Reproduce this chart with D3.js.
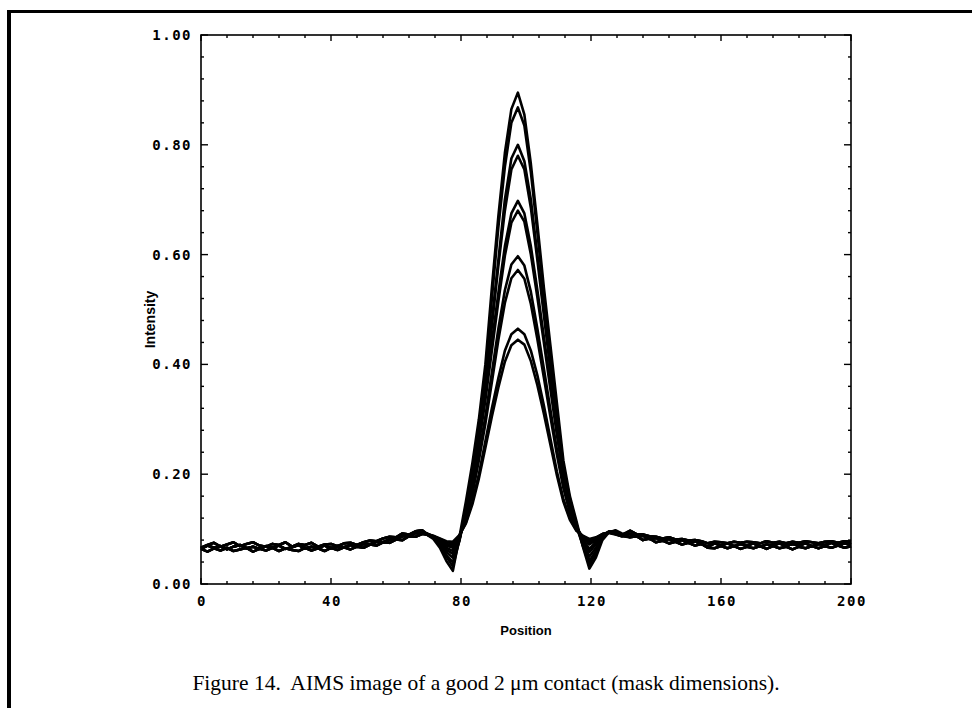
<!DOCTYPE html>
<html>
<head>
<meta charset="utf-8">
<script src="https://cdn.jsdelivr.net/npm/d3@7"></script>
<style>
  html, body { margin: 0; padding: 0; background: #fff; }
  svg { display: block; }
</style>
</head>
<body>
<svg id="fig" width="972" height="708"></svg>
<script>
// sampled positions (the peak window is read on odd half-units, the flanks every 2)
const leftPos = d3.range(0, 69, 2);        // 0 .. 68
const peakPos = d3.range(69.5, 130, 2);    // 69.5 .. 129.5
const rightPos = d3.range(132, 201, 2);    // 132 .. 200

// noisy flat background, three readings of the band
const leftBase = [
  [0.064,0.070,0.066,0.069,0.063,0.068,0.071,0.065,0.068,0.064,0.069,0.066,0.070,0.064,0.067,0.071,0.065,0.068,
   0.066,0.070,0.065,0.069,0.067,0.071,0.068,0.073,0.072,0.077,0.076,0.081,0.082,0.087,0.088,0.093,0.092],
  [0.064,0.059,0.065,0.061,0.066,0.060,0.063,0.066,0.059,0.064,0.061,0.066,0.060,0.065,0.062,0.060,0.066,0.061,
   0.065,0.060,0.066,0.062,0.067,0.063,0.068,0.066,0.072,0.070,0.076,0.075,0.081,0.080,0.087,0.086,0.091],
  [0.066,0.071,0.075,0.068,0.072,0.076,0.069,0.073,0.076,0.070,0.068,0.073,0.071,0.076,0.068,0.073,0.071,0.075,
   0.068,0.072,0.073,0.069,0.074,0.075,0.071,0.076,0.079,0.078,0.083,0.086,0.085,0.092,0.090,0.096,0.098]
];
const rightBase = [
  [0.091,0.086,0.088,0.082,0.084,0.079,0.082,0.077,0.080,0.075,0.078,0.073,0.068,0.074,0.070,0.074,0.069,0.073,
   0.070,0.074,0.068,0.072,0.070,0.074,0.069,0.073,0.070,0.074,0.069,0.073,0.071,0.075,0.070,0.074,0.072],
  [0.085,0.087,0.080,0.083,0.076,0.079,0.074,0.077,0.072,0.075,0.070,0.073,0.066,0.065,0.069,0.065,0.069,0.064,
   0.068,0.065,0.069,0.064,0.069,0.065,0.068,0.063,0.068,0.065,0.069,0.065,0.069,0.066,0.070,0.066,0.069],
  [0.097,0.091,0.090,0.087,0.086,0.083,0.085,0.081,0.082,0.079,0.080,0.078,0.074,0.077,0.076,0.074,0.077,0.075,
   0.077,0.076,0.074,0.078,0.075,0.077,0.074,0.077,0.075,0.078,0.076,0.074,0.077,0.078,0.075,0.078,0.077]
];

// the ten exposures across the contact, highest first
const peaks = [
  [0.090,0.082,0.066,0.042,0.024,0.085,0.150,0.220,0.300,0.400,0.540,0.670,0.785,0.865,0.895,0.855,
   0.765,0.655,0.540,0.435,0.330,0.225,0.160,0.115,0.068,0.028,0.048,0.080,0.094,0.098,0.092],
  [0.092,0.085,0.072,0.050,0.032,0.080,0.140,0.205,0.285,0.385,0.520,0.650,0.760,0.840,0.868,0.835,
   0.750,0.640,0.525,0.420,0.315,0.215,0.155,0.110,0.070,0.035,0.055,0.085,0.096,0.095,0.090],
  [0.090,0.084,0.070,0.052,0.040,0.078,0.135,0.200,0.280,0.370,0.480,0.590,0.700,0.775,0.800,0.770,
   0.700,0.600,0.500,0.400,0.300,0.210,0.150,0.105,0.070,0.042,0.060,0.086,0.094,0.096,0.090],
  [0.091,0.086,0.074,0.058,0.048,0.080,0.130,0.195,0.275,0.365,0.470,0.580,0.680,0.755,0.780,0.755,
   0.685,0.590,0.490,0.390,0.295,0.205,0.148,0.105,0.075,0.050,0.066,0.088,0.095,0.094,0.089],
  [0.090,0.085,0.076,0.062,0.055,0.082,0.128,0.188,0.262,0.345,0.440,0.530,0.615,0.675,0.698,0.675,
   0.615,0.535,0.450,0.365,0.280,0.200,0.145,0.105,0.080,0.058,0.072,0.088,0.094,0.093,0.088],
  [0.092,0.087,0.078,0.066,0.060,0.084,0.126,0.182,0.255,0.335,0.425,0.515,0.598,0.658,0.680,0.660,
   0.600,0.522,0.440,0.355,0.272,0.195,0.142,0.104,0.082,0.064,0.076,0.090,0.095,0.092,0.088],
  [0.090,0.086,0.080,0.070,0.066,0.085,0.120,0.170,0.235,0.305,0.385,0.465,0.535,0.582,0.597,0.580,
   0.532,0.465,0.392,0.318,0.245,0.180,0.133,0.102,0.085,0.072,0.080,0.090,0.094,0.092,0.088],
  [0.091,0.087,0.081,0.073,0.070,0.087,0.118,0.164,0.225,0.292,0.368,0.445,0.512,0.557,0.572,0.556,
   0.510,0.446,0.376,0.305,0.236,0.175,0.130,0.101,0.086,0.076,0.082,0.091,0.094,0.091,0.087],
  [0.090,0.087,0.082,0.076,0.074,0.088,0.112,0.150,0.200,0.260,0.320,0.375,0.425,0.455,0.465,0.455,
   0.425,0.380,0.325,0.265,0.205,0.155,0.120,0.098,0.087,0.080,0.084,0.091,0.094,0.091,0.087],
  [0.091,0.088,0.083,0.078,0.077,0.089,0.110,0.145,0.192,0.248,0.305,0.358,0.405,0.435,0.445,0.436,
   0.406,0.362,0.310,0.254,0.198,0.150,0.117,0.097,0.088,0.082,0.085,0.091,0.093,0.090,0.087]
];

const xTicks = [0, 40, 80, 120, 160, 200];
const yTicks = [0, 0.2, 0.4, 0.6, 0.8, 1.0];
const caption = 'Figure 14.  AIMS image of a good 2 \u03bcm contact (mask dimensions).';

const svg = d3.select('#fig');
const W = 972, H = 708;
const M = { left: 201, right: 851, top: 35, bottom: 584 };

const x = d3.scaleLinear().domain([0, 200]).range([M.left, M.right]);
const y = d3.scaleLinear().domain([0, 1]).range([M.bottom, M.top]);

// page frame (left and top rules of the scanned page)
svg.append('rect').attr('x', 7).attr('y', 10).attr('width', 4).attr('height', H - 10).attr('fill', '#000');
svg.append('rect').attr('x', 7).attr('y', 10).attr('width', W - 7).attr('height', 3).attr('fill', '#000');

// build each trace from its background flanks + peak window
const traces = peaks.map((pk, i) => {
  const b = i % 3;
  const pts = [];
  leftPos.forEach((p, j) => pts.push([p, leftBase[b][j]]));
  peakPos.forEach((p, j) => pts.push([p, pk[j]]));
  rightPos.forEach((p, j) => pts.push([p, rightBase[b][j]]));
  return pts;
});

const line = d3.line().x(d => x(d[0])).y(d => y(d[1]));

svg.append('g').selectAll('path').data(traces).join('path')
  .attr('d', line)
  .attr('fill', 'none')
  .attr('stroke', '#000')
  .attr('stroke-width', 2.6)
  .attr('stroke-linejoin', 'round');

// plot box
svg.append('rect')
  .attr('x', M.left).attr('y', M.top)
  .attr('width', M.right - M.left).attr('height', M.bottom - M.top)
  .attr('fill', 'none').attr('stroke', '#000').attr('stroke-width', 1.6);

// ticks, drawn inward on all sides
const ax = svg.append('g').attr('stroke', '#000');
const yMinor = d3.range(0, 1.0001, 0.04);
const xMinor = d3.range(0, 200.001, 8);
yMinor.forEach(v => {
  const major = yTicks.some(t => Math.abs(t - v) < 1e-6);
  const len = major ? 7 : 3;
  ax.append('line').attr('x1', x(0)).attr('x2', x(0) + len).attr('y1', y(v)).attr('y2', y(v)).attr('stroke-width', 1.4);
  ax.append('line').attr('x1', x(200)).attr('x2', x(200) - len).attr('y1', y(v)).attr('y2', y(v)).attr('stroke-width', 1.4);
});
xMinor.forEach(v => {
  const major = xTicks.includes(v);
  const len = major ? 6 : 3;
  ax.append('line').attr('x1', x(v)).attr('x2', x(v)).attr('y1', y(0)).attr('y2', y(0) - len).attr('stroke-width', 1.4);
  ax.append('line').attr('x1', x(v)).attr('x2', x(v)).attr('y1', y(1)).attr('y2', y(1) + len).attr('stroke-width', 1.4);
});

// tick labels
const tickFont = '"DejaVu Sans Mono", "Liberation Mono", monospace';
svg.append('g').selectAll('text').data(yTicks).join('text')
  .attr('x', x(0) - 9).attr('y', d => y(d))
  .attr('text-anchor', 'end').attr('dominant-baseline', 'central')
  .attr('font-family', tickFont).attr('font-weight', 'bold').attr('font-size', 14)
  .attr('letter-spacing', 1.5)
  .text(d3.format('.2f'));

svg.append('g').selectAll('text').data(xTicks).join('text')
  .attr('x', d => x(d) + 1).attr('y', y(0) + 22)
  .attr('text-anchor', 'middle')
  .attr('font-family', tickFont).attr('font-weight', 'bold').attr('font-size', 14)
  .attr('letter-spacing', 1.5)
  .text(d => d);

// axis titles
svg.append('text')
  .attr('x', (M.left + M.right) / 2).attr('y', 635)
  .attr('text-anchor', 'middle')
  .attr('font-family', '"Liberation Sans", Arial, sans-serif').attr('font-weight', 'bold').attr('font-size', 13)
  .text('Position');

svg.append('text')
  .attr('transform', `translate(155, ${(M.top + M.bottom) / 2 + 10}) rotate(-90)`)
  .attr('text-anchor', 'middle')
  .attr('font-family', '"Liberation Sans", Arial, sans-serif').attr('font-weight', 'bold').attr('font-size', 14)
  .text('Intensity');

// caption
svg.append('text')
  .attr('x', 486).attr('y', 690)
  .attr('text-anchor', 'middle')
  .attr('font-family', '"Liberation Serif", "Times New Roman", serif').attr('font-size', 21.5)
  .style('white-space', 'pre')
  .text(caption);
</script>
</body>
</html>
